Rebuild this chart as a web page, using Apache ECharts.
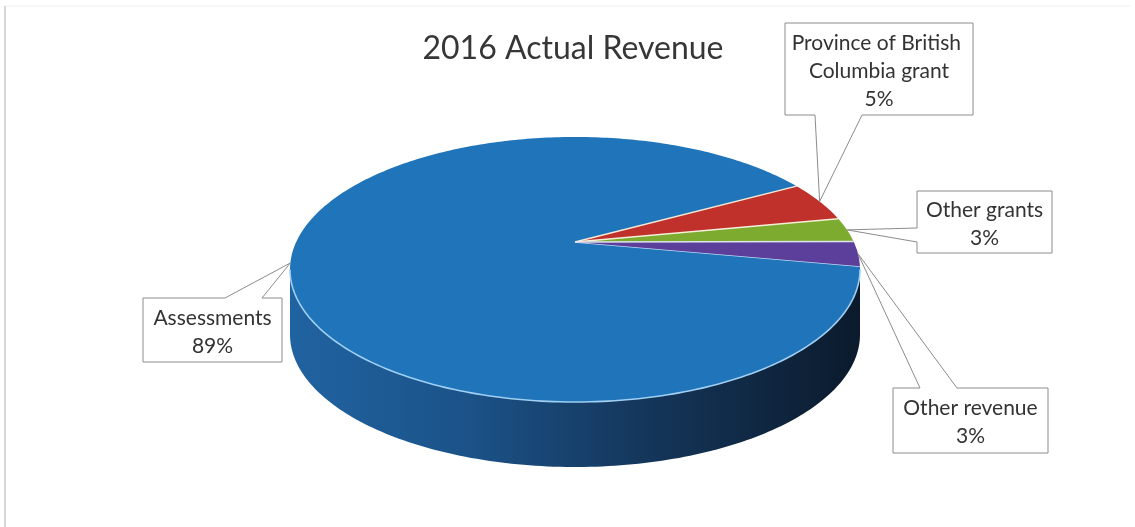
<!DOCTYPE html>
<html>
<head>
<meta charset="utf-8">
<title>2016 Actual Revenue</title>
<script src="https://cdn.jsdelivr.net/npm/echarts@6/dist/echarts.min.js"></script>
<style>
  html, body { margin: 0; padding: 0; background: #ffffff; }
  #chart { width: 1135px; height: 527px; }
</style>
</head>
<body>
<div id="chart"></div>
<script>
// Revenue sources and their shares (percent)
const categories = ['Assessments', 'Province of British Columbia grant', 'Other grants', 'Other revenue'];
const values = [89, 5, 3, 3];
const chartTitle = '2016 Actual Revenue';

// Colours of the slice tops and of the seams between slices
const topColors = ['#1f74ba', '#c1312b', '#7dab2f', '#5b3f9a'];
const edgeColors = ['#bcdcf4', '#f4ead8', '#f2f0d8', '#dfe3ee'];

// Projection of the tilted disc: centre, half axes, perspective and wall height
const pie = { cx: 575, cy: 242, ax: 278.8, ay: 126.8, persp: 0.2075, depth: 65, startAngle: 10.6 };

// Callout boxes: [left, top, right, bottom], the edge carrying the pointer and where it leaves that edge
const callouts = [
  { box: [143, 298, 282, 362], side: 'top', base: [225, 262], width: 150 },
  { box: [785, 23, 973, 115], side: 'bottom', base: [815, 862], width: 185 },
  { box: [917, 191, 1052, 253], side: 'left', base: [228, 242], width: 135 },
  { box: [893, 388, 1048, 453], side: 'top', base: [920, 957], width: 160 }
];

const total = values.reduce((a, b) => a + b, 0);
const DEG = Math.PI / 180;

function sliceRange(i) {
  let before = 0;
  for (let j = 0; j < i; j++) before += values[j];
  const start = pie.startAngle + before / total * 360;
  return [start, start + values[i] / total * 360];
}

// Point on the rim at a given angle (degrees, clockwise from 3 o'clock), lowered by dy
function rim(deg, dy) {
  const t = deg * DEG;
  const u = Math.cos(t), v = Math.sin(t);
  const w = 1 - pie.persp * v;
  return [pie.cx + pie.ax * u / w, pie.cy + pie.ay * v / w + (dy || 0)];
}

function arcPoints(a0, a1, dy) {
  const pts = [];
  const n = Math.max(2, Math.ceil(Math.abs(a1 - a0)));
  for (let k = 0; k <= n; k++) pts.push(rim(a0 + (a1 - a0) * k / n, dy));
  return pts;
}

// Angles where the wall meets the outline of the top
const limb = Math.asin(pie.persp) / DEG;

function wallPieces(i) {
  const [s0, e0] = sliceRange(i);
  const pieces = [];
  [0, 360].forEach(shift => {
    const s = Math.max(s0, limb + shift);
    const e = Math.min(e0, 180 - limb + shift);
    if (s < e) pieces.push([s, e]);
  });
  return pieces;
}

function wallFill(i) {
  if (i === 0) {
    return new echarts.graphic.LinearGradient(0, 0, 1, 0, [
      { offset: 0, color: '#2063a1' },
      { offset: 0.3, color: '#1b5389' },
      { offset: 0.6, color: '#15385e' },
      { offset: 1, color: '#0b1a2c' }
    ]);
  }
  return echarts.color.modifyHSL(topColors[i], null, null, 0.25);
}

function renderWall(params) {
  const i = params.dataIndex;
  const children = wallPieces(i).map(([s, e]) => {
    const top = arcPoints(s, e, 0);
    const bottom = arcPoints(e, s, pie.depth);
    return {
      type: 'polygon',
      shape: { points: top.concat(bottom) },
      style: { fill: wallFill(i) }
    };
  });
  return { type: 'group', children };
}

function renderTop(params) {
  const i = params.dataIndex;
  const [s, e] = sliceRange(i);
  const children = [{
    type: 'polygon',
    shape: { points: [[pie.cx, pie.cy]].concat(arcPoints(s, e, 0)) },
    style: { fill: topColors[i] }
  }];
  // light rim along the front edge
  wallPieces(i).forEach(([a, b]) => {
    children.push({
      type: 'polyline',
      shape: { points: arcPoints(a, b, 0) },
      style: { stroke: '#9fcff2', lineWidth: 1.6, fill: null }
    });
  });
  // light seam where this slice starts
  children.push({
    type: 'line',
    shape: { x1: pie.cx, y1: pie.cy, x2: rim(s)[0], y2: rim(s)[1] },
    style: { stroke: edgeColors[i], lineWidth: 1.4 }
  });
  return { type: 'group', children };
}

function calloutOutline(c, tip) {
  const [l, t, r, b] = c.box;
  const base = c.base.slice();
  const pts = [[l, t]];
  if (c.side === 'top') {
    base.sort((p, q) => p - q);
    pts.push([base[0], t], tip, [base[1], t]);
  }
  pts.push([r, t], [r, b]);
  if (c.side === 'bottom') {
    base.sort((p, q) => q - p);
    pts.push([base[0], b], tip, [base[1], b]);
  }
  pts.push([l, b]);
  if (c.side === 'left') {
    base.sort((p, q) => q - p);
    pts.push([l, base[0]], tip, [l, base[1]]);
  }
  return pts;
}

function renderLabel(params) {
  const i = params.dataIndex;
  const c = callouts[i];
  const [s, e] = sliceRange(i);
  const tip = rim((s + e) / 2, 0);
  const pct = Math.round(values[i] / total * 100) + '%';
  const [l, t, r, b] = c.box;
  return {
    type: 'group',
    children: [
      {
        type: 'polygon',
        shape: { points: calloutOutline(c, tip) },
        style: { fill: '#ffffff', stroke: '#8c8c8c', lineWidth: 1 }
      },
      {
        type: 'text',
        x: (l + r) / 2,
        y: (t + b) / 2 + 2,
        style: {
          text: categories[i] + '\n' + pct,
          width: c.width,
          overflow: 'break',
          align: 'center',
          verticalAlign: 'middle',
          lineHeight: 28,
          fontSize: 21,
          fontFamily: 'Lato',
          fill: '#333333'
        }
      }
    ]
  };
}

const seriesData = values.map((v, i) => ({ name: categories[i], value: [v, i] }));

const chart = echarts.init(document.getElementById('chart'), null, { renderer: 'canvas' });
chart.setOption({
  backgroundColor: '#ffffff',
  animation: false,
  title: {
    text: chartTitle,
    left: 568,
    top: 28,
    textAlign: 'center',
    textStyle: { fontFamily: 'Lato', fontSize: 32, fontWeight: 'normal', color: '#363636' }
  },
  graphic: [
    { type: 'line', shape: { x1: 5, y1: 6, x2: 5, y2: 527 }, style: { stroke: '#c8c8c8', lineWidth: 1.5 } },
    { type: 'line', shape: { x1: 5, y1: 6, x2: 1130, y2: 6 }, style: { stroke: '#eeeeee', lineWidth: 1 } }
  ],
  series: [
    { type: 'custom', coordinateSystem: 'none', z: 1, renderItem: renderWall, data: seriesData, silent: true },
    { type: 'custom', coordinateSystem: 'none', z: 2, renderItem: renderTop, data: seriesData, silent: true },
    { type: 'custom', coordinateSystem: 'none', z: 3, renderItem: renderLabel, data: seriesData, silent: true }
  ]
});
</script>
</body>
</html>
